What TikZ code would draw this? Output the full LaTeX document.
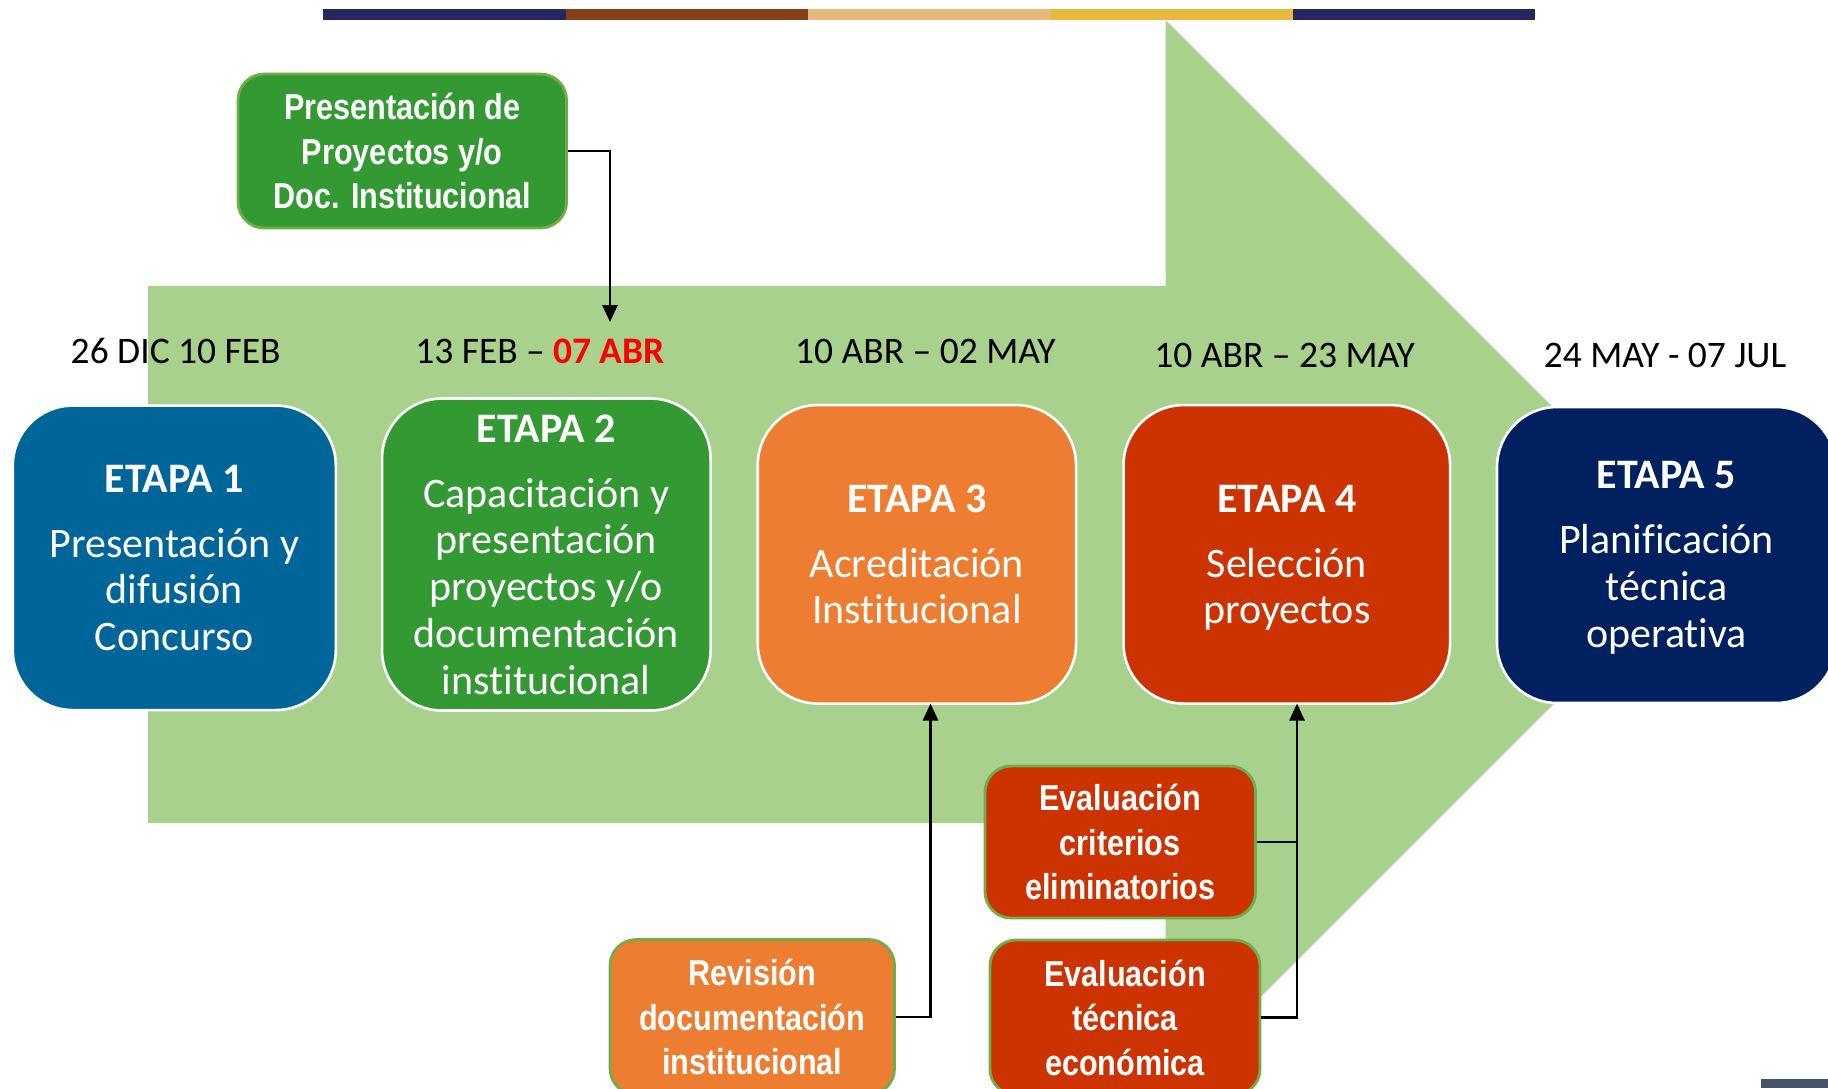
\documentclass[tikz,border=0pt]{standalone}
\usepackage{fontspec}
\setmainfont{Carlito}[Ligatures=NoCommon]
\newfontfamily\narrowfont[FakeStretch=0.85]{Liberation Sans}
\usetikzlibrary{arrows.meta}

\definecolor{barnavy}{HTML}{262661}
\definecolor{barbrown}{HTML}{843F15}
\definecolor{bartan}{HTML}{E8B97D}
\definecolor{bargold}{HTML}{E9B83C}
\definecolor{arrowgreen}{HTML}{A9D18E}
\definecolor{stageblue}{HTML}{006699}
\definecolor{stagegreen}{HTML}{339933}
\definecolor{stageorange}{HTML}{ED7D31}
\definecolor{stagered}{HTML}{CC3300}
\definecolor{stagenavy}{HTML}{002060}
\definecolor{taskedge}{HTML}{70AD47}
\definecolor{slab}{HTML}{44546A}

% bold stage heading, optionally with a taller strut to lower the text block
\newcommand{\stagehead}[2][0pt]{{\bfseries\rule{0pt}{#1}#2}}

\begin{document}
\begin{tikzpicture}[x=1pt,y=-1pt,
  stage/.style={rounded corners=60pt, draw=white, line width=2.6pt, text=white,
    align=center, inner sep=0pt, font=\fontsize{42}{46.7}\selectfont},
  task/.style={rounded corners=26pt, draw=taskedge, line width=2.8pt, text=white,
    align=center, inner sep=0pt, font=\narrowfont\bfseries\fontsize{36}{44.5}\selectfont},
  datelbl/.style={anchor=base, inner sep=0pt, font=\fontsize{37.5}{40}\selectfont},
  link/.style={line width=2.6pt, draw=black},
  linkarrow/.style={link, -{Triangle[width=15pt,length=17pt]}},
]
\useasboundingbox (0,0) rectangle (1828,1088);
\clip (0,0) rectangle (1828,1088);

% big background arrow
\fill[arrowgreen] (148,286) -- (1165.7,286) -- (1165.7,20) -- (1701.6,556)
  -- (1165.7,1092) -- (1165.7,823) -- (148,823) -- cycle;

% coloured strip on top
\fill[barnavy]  (323,9)  rectangle (566,20);
\fill[barbrown] (566,9)  rectangle (808,20);
\fill[bartan]   (808,9)  rectangle (1050,20);
\fill[bargold]  (1050,9) rectangle (1293,20);
\fill[barnavy]  (1293,9) rectangle (1535,20);
\fill[slab] (1761,1079) rectangle (1828,1088);

% dates
\node[datelbl] (d1) at (175.7,363) {26 DIC 10 FEB};
\node[datelbl] (d2) at (540,363) {13 FEB -- \textcolor{red}{\bfseries 07 ABR}};
\node[datelbl] (d3) at (925.4,363) {10 ABR -- 02 MAY};
\node[datelbl] (d4) at (1284.6,367.7) {10 ABR -- 23 MAY};
\node[datelbl] (d5) at (1665,367.7) {24 MAY - 07 JUL};

% stages
\node[stage, fill=stageblue, minimum width=323pt, minimum height=304.5pt] (e1) at (174.3,557.8)
  {\stagehead{ETAPA 1}\\[18.3pt]Presentación y\\difusión\\Concurso};
\node[stage, fill=stagegreen, minimum width=328.5pt, minimum height=312pt] (e2) at (546.3,554.5)
  {\stagehead{ETAPA 2}\\[18.3pt]Capacitación y\\presentación\\proyectos y/o\\documentación\\institucional};
\node[stage, fill=stageorange, minimum width=318.3pt, minimum height=298.5pt] (e3) at (916.9,554.3)
  {\stagehead{ETAPA 3}\\[18.3pt]Acreditación\\Institucional};
\node[stage, fill=stagered, minimum width=326.5pt, minimum height=298.5pt] (e4) at (1286.8,554.3)
  {\stagehead[34pt]{ETAPA 4}\\[18.3pt]Selección\\proyectos};
\node[stage, fill=stagenavy, minimum width=339pt, minimum height=296pt] (e5) at (1666.5,555)
  {\stagehead[33pt]{ETAPA 5}\\[18.3pt]Planificación\\técnica\\operativa};

% tasks
\node[task, fill=stagegreen, minimum width=328.5pt, minimum height=154pt] (p0) at (402.3,151)
  {Presentación de\\Proyectos y/o\\Doc. Institucional};
\node[task, fill=stageorange, minimum width=284.5pt, minimum height=155pt] (rev) at (752.3,1017)
  {Revisión\\documentación\\institucional};
\node[task, fill=stagered, minimum width=270.5pt, minimum height=152pt] (crit) at (1120.3,842)
  {Evaluación\\criterios\\eliminatorios};
\node[task, fill=stagered, minimum width=270pt, minimum height=155pt] (tec) at (1125,1017.5)
  {Evaluación\\técnica\\económica};

% connectors
\coordinate (p0end) at (610,322);
\coordinate (e3in) at (930.5,703.5);
\coordinate (e4in) at (1297,703.5);
\draw[linkarrow] (p0.east) -| (p0end);
\draw[linkarrow] (rev.east) -| (e3in);
\draw[linkarrow] (tec.east) -| (e4in);
\draw[link] (crit.east) -- (crit.east -| e4in);
\end{tikzpicture}
\end{document}
